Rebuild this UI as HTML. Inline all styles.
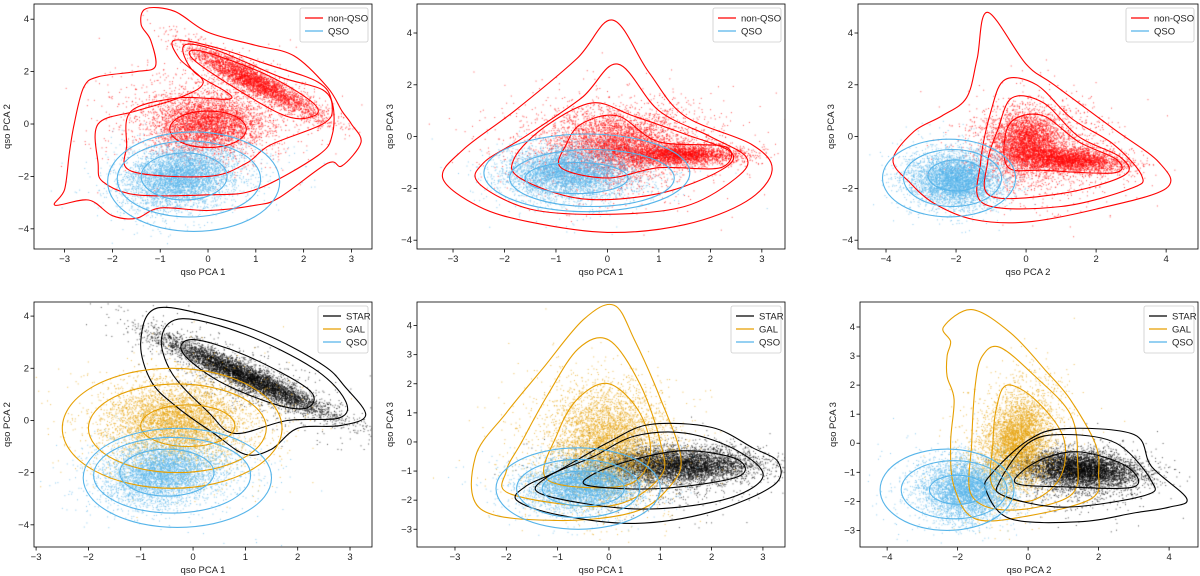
<!DOCTYPE html>
<html><head><meta charset="utf-8"><style>
body{margin:0;background:#fff;width:1200px;height:576px;overflow:hidden;position:relative;font-family:"Liberation Sans",sans-serif}
canvas,svg{position:absolute;left:0;top:0}
</style></head><body>
<canvas id="cv" width="1200" height="576"></canvas>
<svg id="sv" width="1200" height="576"></svg>
<script>
// ---- data ----
const clusters1=[["#ff0000",[[0,0,0.55,0.5,0,3000],[1,1.6,0.7,0.7,-0.93,3500],[0,0.3,1.0,1.0,0,1600]]],["#56b4e9",[[-0.6,-2,0.55,0.6,0.2,4000],[-0.4,-2,0.9,0.8,0.2,1000]]]];
const clusters2=[["#ff0000",[[0.2,-0.3,0.6,0.6,0,3000],[1.4,-0.7,0.6,0.2,0,3000],[0.2,-0.3,1.1,1.0,0,1600]]],["#56b4e9",[[-0.8,-1.4,0.6,0.5,0,4000],[-0.5,-1.5,0.9,0.7,0,1000]]]];
const clusters3=[["#ff0000",[[0,-0.2,0.5,0.6,0,3000],[1.3,-0.9,0.8,0.25,-0.3,3000],[0.3,-0.5,1.1,1.0,0,1600]]],["#56b4e9",[[-2,-1.7,0.6,0.5,0,4000],[-2,-1.6,0.9,0.7,0,1000]]]];
const clusters4=[["#000000",[[1,1.7,0.8,0.75,-0.95,5000],[1,1.6,1,1,-0.8,900]]],["#e69f00",[[-0.3,0,0.6,0.7,0,3500],[-0.3,-0.2,1.0,1.1,0,1400]]],["#56b4e9",[[-0.6,-2,0.55,0.6,0.2,3500],[-0.4,-2,0.9,0.8,0,1000]]]];
const clusters5=[["#000000",[[1.3,-0.8,0.8,0.3,0,5000],[1,-1,1,0.6,0,900]]],["#e69f00",[[0,0,0.5,0.9,0,3500],[-0.2,-0.2,0.85,1.3,0,1400]]],["#56b4e9",[[-0.5,-1.5,0.5,0.4,0,3500],[-0.5,-1.5,0.8,0.6,0,1000]]]];
const clusters6=[["#000000",[[1.5,-0.9,0.8,0.3,-0.2,5000],[1.5,-1.2,1,0.6,0,900]]],["#e69f00",[[-0.3,0,0.45,0.8,0.3,3500],[-0.4,0,0.8,1.2,0.2,1400]]],["#56b4e9",[[-1.7,-1.6,0.6,0.5,0,3500],[-2,-1.6,0.9,0.7,0,1000]]]];
const blueA=[{e:[-0.3,-2.2,1.8,1.9]},{e:[-0.4,-2.1,1.5,1.45]},{e:[-0.5,-2,0.9,0.9]}];
const contours1=[["#ff0000",[
[[-3.2,-3.1],[-2.5,-2.9],[-2,-3.5],[-1.5,-3.6],[-1,-3.2],[0,-3.3],[1,-3.1],[1.5,-2.8],[2.5,-1.5],[2.8,-1.6],[3.2,-0.7],[3,0],[2.8,0.5],[2.5,1.4],[1.8,2.6],[1,3],[0,3.5],[-0.7,4.3],[-1.3,4.4],[-1.4,3.8],[-1.2,3.2],[-1.1,2.2],[-1.5,2],[-2.3,1.8],[-2.6,1.4],[-2.8,0],[-2.9,-1.1],[-3,-2.5]],
[[-2.2,-2.2],[-1.5,-2.7],[0,-2.7],[1,-2.5],[2.3,-1.2],[2.6,-0.4],[2.6,0.8],[2.3,1.6],[1.2,2.3],[0.2,2.9],[-0.7,3.2],[-0.6,2.5],[-0.1,1.6],[-0.6,1.0],[-1.5,0.5],[-2.3,0],[-2.3,-1.5]],
[[-1.6,-1.8],[0,-2.0],[0.8,-1.5],[1.3,-0.8],[2.4,0],[2.6,0.6],[2.4,1.3],[1.5,1.8],[0.2,2.8],[-0.5,3.0],[-0.3,2.0],[0.5,1.0],[-0.6,1.0],[-1.6,0.5],[-1.7,-0.8]],
{e:[0,-0.2,0.8,0.7]},
[[-0.2,2.8],[1.2,1.9],[2.2,0.8],[2.2,0.3],[1.5,0.4],[-0.2,2.3]]]],["#56b4e9",blueA]];
const contours2=[["#ff0000",[
[[-3.2,-1.6],[-2.5,-2.7],[-1.5,-3.3],[0,-3.7],[1.5,-3.4],[2.7,-2.5],[3.2,-1.3],[2.8,-0.3],[1.5,0.8],[0.8,2.5],[0.1,4.5],[-0.6,3],[-1.8,1],[-2.8,-0.5]],
[[-2.5,-1.8],[-1.5,-2.8],[0,-3],[1.5,-2.7],[2.5,-1.6],[2.7,-0.8],[2,0],[1,1],[0.2,2.8],[-0.5,1.5],[-1.6,0],[-2.4,-1]],
[[-1.7,-1.6],[-0.5,-2.4],[1,-2.2],[2.2,-1.3],[2.4,-0.6],[1.5,0.1],[0.5,0.8],[-0.3,1.3],[-1.2,0.4],[-1.8,-0.8]],
[[-0.9,-1.2],[0,-1.6],[1,-1.2],[2.2,-1.2],[2.3,-0.4],[1,-0.2],[0.2,0.8],[-0.5,0.5],[-0.8,-0.3]]]],
["#56b4e9",[{e:[-0.4,-1.4,2.0,1.5]},{e:[-0.3,-1.6,1.6,1.1]},{e:[-0.6,-1.6,1.0,0.6]}]]];
const contours3=[["#ff0000",[
[[-3.8,-0.9],[-3.3,-1.8],[-2.6,-2.6],[-1.5,-3.2],[0,-3.3],[2,-2.8],[4,-2.0],[3.8,-1.0],[2.5,0.3],[0.8,2],[0,2.8],[-1.1,4.8],[-1.4,3],[-1.7,1.5],[-2.4,0.8],[-3.2,0.2]],
[[-1.2,-2.6],[1,-2.7],[3,-2],[3.3,-1.5],[2.5,-0.3],[1.3,0.7],[0.3,2],[-0.6,2.2],[-1,1],[-1.3,-1]],
[[-1,-2.3],[1,-2.2],[2.8,-1.5],[2.7,-0.8],[1.5,0],[0.5,1.3],[-0.4,1.5],[-0.8,0.3],[-1.1,-1]],
[[-0.5,-1.2],[0.5,-1.3],[2.5,-1.4],[2.6,-0.9],[1.5,-0.2],[0.5,0.8],[-0.3,0.7],[-0.6,0]]]],
["#56b4e9",[{e:[-2.2,-1.6,1.9,1.5]},{e:[-2.1,-1.6,1.4,1.1]},{e:[-2,-1.5,0.8,0.6]}]]];
const contours4=[["#000000",[
[[-0.7,4.3],[0.5,3.9],[1.5,3.2],[2.5,2.1],[2.9,1.3],[3.3,0.2],[2.8,-0.2],[2,-0.3],[1.5,-1.1],[1,-1.3],[0.4,-0.5],[-0.3,0.5],[-0.8,1.5],[-1,3]],
[[-0.2,3.9],[1,3.3],[2.3,2],[2.9,0.8],[2.8,0.1],[1.8,0],[0.8,-0.5],[0.3,0.3],[-0.4,1.8],[-0.6,3.2]],
[[0,3.1],[1,2.5],[2.2,1.2],[2.2,0.5],[1.6,0.6],[0.5,1.5],[-0.2,2.6]]]],
["#e69f00",[{e:[-0.4,-0.3,2.1,2.3]},{e:[-0.3,-0.3,1.7,1.7]},{e:[-0.1,-0.2,0.9,0.8]}]],["#56b4e9",blueA]];
const contours5=[["#e69f00",[
[[-2.5,-2.3],[-1,-2.7],[0.5,-2.4],[1.2,-1.5],[1.4,-0.5],[1,1.5],[0.5,3.5],[0.1,4.7],[-0.5,4.2],[-1.3,2.5],[-2,1],[-2.6,-0.5]],
[[-1.9,-1.8],[0,-2.2],[1,-1.2],[1,0],[0.6,2],[0,3.5],[-0.6,3.2],[-1.2,1.6],[-1.7,0],[-2,-1]],
[[-1.2,-1.3],[0.3,-1.5],[0.8,-0.5],[0.6,1],[0,2],[-0.6,1.5],[-1,0.3]]]],
["#000000",[
[[-1.8,-2],[-1,-2.5],[0.5,-2.8],[2,-2.4],[3.2,-1.5],[3.3,-0.7],[2.8,-0.2],[2,0.5],[0.8,0.6],[0,0],[-1,-1],[-1.6,-1.5]],
[[-1.3,-1.8],[0.5,-2.3],[2.2,-2],[3,-1.2],[2.5,-0.3],[1.5,0.3],[0.5,0.2],[-0.3,-0.5],[-1.2,-1.2]],
[[-0.4,-1.5],[1,-1.6],[2.5,-1.2],[2.5,-0.6],[1.5,-0.3],[0.5,-0.6],[-0.3,-1.1]]]],
["#56b4e9",[{e:[-0.6,-1.6,1.6,1.4]},{e:[-0.6,-1.6,1.2,1.0]},{e:[-0.5,-1.6,0.8,0.6]}]]];
const contours6=[["#e69f00",[
[[-2.3,3],[-2.3,2.3],[-2.1,1.5],[-2.2,0],[-2.1,-1.5],[-1.5,-2.6],[0,-2.5],[1.8,-1.9],[2,-1],[1.9,0],[1.2,1.5],[0.5,2.5],[-0.5,3.8],[-1.6,4.6],[-2.4,4],[-2.2,3.5]],
[[-1.5,2],[-1.6,0],[-1.6,-1.8],[-0.5,-2.3],[1.2,-1.8],[1.4,-0.5],[1.2,1],[0.2,2.3],[-0.8,3.3],[-1.3,3]],
[[-1,0],[-1,-1.5],[0,-2],[0.9,-1.2],[1,0.2],[0.2,1.5],[-0.6,2],[-0.9,1.2]]]],
["#000000",[
[[-1.2,-1.6],[-0.5,-2.6],[1.5,-2.7],[3,-2.4],[4,-2.2],[4.5,-1.9],[3.5,-0.8],[3,0.3],[1,0.5],[0,0.1],[-1,-1]],
[[-0.7,-1.8],[1,-2.2],[3.3,-1.8],[3.5,-1.3],[2.5,0],[1,0.3],[0,0],[-0.8,-1.3]],
[[-0.3,-1.4],[1,-1.5],[3,-1.5],[2.8,-0.8],[1.5,-0.3],[0.5,-0.5],[-0.2,-1]]]],
["#56b4e9",[{e:[-2.3,-1.6,1.9,1.4]},{e:[-2.1,-1.6,1.5,1.0]},{e:[-2,-1.6,0.8,0.5]}]]];
const xt1=[-3,-2,-1,0,1,2,3], xt2=[-4,-2,0,2,4], yt1=[-4,-2,0,2,4], yt2=[-3,-2,-1,0,1,2,3,4];
const leg2=[["non-QSO","#ff0000"],["QSO","#56b4e9"]], leg3=[["STAR","#000000"],["GAL","#e69f00"],["QSO","#56b4e9"]];
// ---- layout ----
const panels=[
{L:34,R:372,T:4,B:249,x0:-3.64,x1:3.43,y0:-4.77,y1:4.58,xt:xt1,yt:yt1,xl:"qso PCA 1",yl:"qso PCA 2",cl:clusters1,ct:contours1,lg:leg2},
{L:417,R:785,T:4,B:249,x0:-3.70,x1:3.45,y0:-4.34,y1:5.12,xt:xt1,yt:yt1,xl:"qso PCA 1",yl:"qso PCA 3",cl:clusters2,ct:contours2,lg:leg2},
{L:858,R:1198,T:4,B:249,x0:-4.8,x1:4.91,y0:-4.34,y1:5.12,xt:xt2,yt:yt1,xl:"qso PCA 2",yl:"qso PCA 3",cl:clusters3,ct:contours3,lg:leg2},
{L:34,R:372,T:302,B:547,x0:-3.04,x1:3.42,y0:-4.85,y1:4.54,xt:xt1,yt:yt1,xl:"qso PCA 1",yl:"qso PCA 2",cl:clusters4,ct:contours4,lg:leg3},
{L:417,R:785,T:302,B:547,x0:-3.74,x1:3.43,y0:-3.61,y1:4.81,xt:xt1,yt:yt2,xl:"qso PCA 1",yl:"qso PCA 3",cl:clusters5,ct:contours5,lg:leg3},
{L:860,R:1198,T:302,B:547,x0:-4.77,x1:4.82,y0:-3.57,y1:4.86,xt:xt2,yt:yt2,xl:"qso PCA 2",yl:"qso PCA 3",cl:clusters6,ct:contours6,lg:leg3}];
let s=12345;function rnd(){s|=0;s=s+0x6D2B79F5|0;let t=Math.imul(s^s>>>15,1|s);t=t+Math.imul(t^t>>>7,61|t)^t;return((t^t>>>14)>>>0)/4294967296;}
function gauss(){let u=rnd()||1e-9,v=rnd();return Math.sqrt(-2*Math.log(u))*Math.cos(2*Math.PI*v);}
const ctx=document.getElementById('cv').getContext('2d');
const sv=document.getElementById('sv');const NS="http://www.w3.org/2000/svg";
function el(t,a,p){const e=document.createElementNS(NS,t);for(const k in a)e.setAttribute(k,a[k]);(p||sv).appendChild(e);return e;}
function smooth(pts){let d="";const n=pts.length;for(let i=0;i<n;i++){const p0=pts[(i-1+n)%n],p1=pts[i],p2=pts[(i+1)%n],p3=pts[(i+2)%n];
if(i===0)d+="M"+p1[0].toFixed(1)+","+p1[1].toFixed(1);
d+="C"+(p1[0]+(p2[0]-p0[0])/6).toFixed(1)+","+(p1[1]+(p2[1]-p0[1])/6).toFixed(1)+" "+(p2[0]-(p3[0]-p1[0])/6).toFixed(1)+","+(p2[1]-(p3[1]-p1[1])/6).toFixed(1)+" "+p2[0].toFixed(1)+","+p2[1].toFixed(1);}return d+"Z";}
panels.forEach((P,pi)=>{
const X=v=>P.L+(v-P.x0)/(P.x1-P.x0)*(P.R-P.L), Y=v=>P.B-(v-P.y0)/(P.y1-P.y0)*(P.B-P.T);
const g=el('g',{});


ctx.save();ctx.beginPath();ctx.rect(P.L,P.T,P.R-P.L,P.B-P.T);ctx.clip();
P.cl.forEach(([col,list])=>{ctx.fillStyle=col;ctx.globalAlpha=0.7;
list.forEach(c=>{const[cx,cy,sx,sy,r,n]=c;for(let i=0;i<n;i++){const a=gauss(),b=gauss();const px=cx+sx*a,py=cy+sy*(r*a+Math.sqrt(1-r*r)*b);ctx.fillRect(X(px)-0.5,Y(py)-0.5,1,1);}});});
ctx.restore();
const cg=el('g',{'clip-path':'url(#cp'+pi+')'},g);
const cp=el('clipPath',{id:'cp'+pi},g);el('rect',{x:P.L,y:P.T,width:P.R-P.L,height:P.B-P.T},cp);
P.ct.forEach(([col,list])=>{list.forEach(c=>{let pts;
if(c.e){pts=[];for(let k=0;k<16;k++){const t=k/16*2*Math.PI;pts.push([X(c.e[0]+c.e[2]*Math.cos(t)),Y(c.e[1]+c.e[3]*Math.sin(t))]);}}
else pts=c.map(p=>[X(p[0]),Y(p[1])]);
const pa=el('path',{d:smooth(pts),fill:'none',stroke:col,'stroke-width':1.1},cg);

});});
el('rect',{x:P.L,y:P.T,width:P.R-P.L,height:P.B-P.T,fill:'none',stroke:'#000','stroke-width':0.8},g);
P.xt.forEach(v=>{const x=X(v);el('line',{x1:x,x2:x,y1:P.B,y2:P.B+3.5,stroke:'#000','stroke-width':0.8},g);
const t=el('text',{x:x,y:P.B+13,'font-size':9.5,'text-anchor':'middle',fill:'#222'},g);t.textContent=v<0?"\u2212"+(-v):v;

});
P.yt.forEach(v=>{const y=Y(v);el('line',{x1:P.L-3.5,x2:P.L,y1:y,y2:y,stroke:'#000','stroke-width':0.8},g);
const t=el('text',{x:P.L-5,y:y+3,'font-size':9.5,'text-anchor':'end',fill:'#222'},g);t.textContent=v<0?"\u2212"+(-v):v;

});
const xl=el('text',{x:(P.L+P.R)/2,y:P.B+26,'font-size':9.5,'text-anchor':'middle',fill:'#222'},g);xl.textContent=P.xl;


const yx=P.L-24,yy=(P.T+P.B)/2;
const yl=el('text',{x:yx,y:yy,'font-size':9.5,'text-anchor':'middle',fill:'#222',transform:`rotate(-90 ${yx} ${yy})`},g);yl.textContent=P.yl;


const lh=P.lg.length*13+8, lw=P.lg.length===2?68:50;
const lg=el('g',{},g);


el('rect',{x:P.R-lw-4,y:P.T+4,width:lw,height:lh,rx:2,fill:'#fff','fill-opacity':0.85,stroke:'#ccc','stroke-width':0.8},lg);
P.lg.forEach(([name,col],i)=>{const yy2=P.T+14+i*13;el('line',{x1:P.R-lw+1,x2:P.R-lw+19,y1:yy2,y2:yy2,stroke:col,'stroke-width':1.2},lg);
const t=el('text',{x:P.R-lw+24,y:yy2+3.5,'font-size':9.5,fill:'#222'},lg);t.textContent=name;

});
});
</script>
</body></html>
